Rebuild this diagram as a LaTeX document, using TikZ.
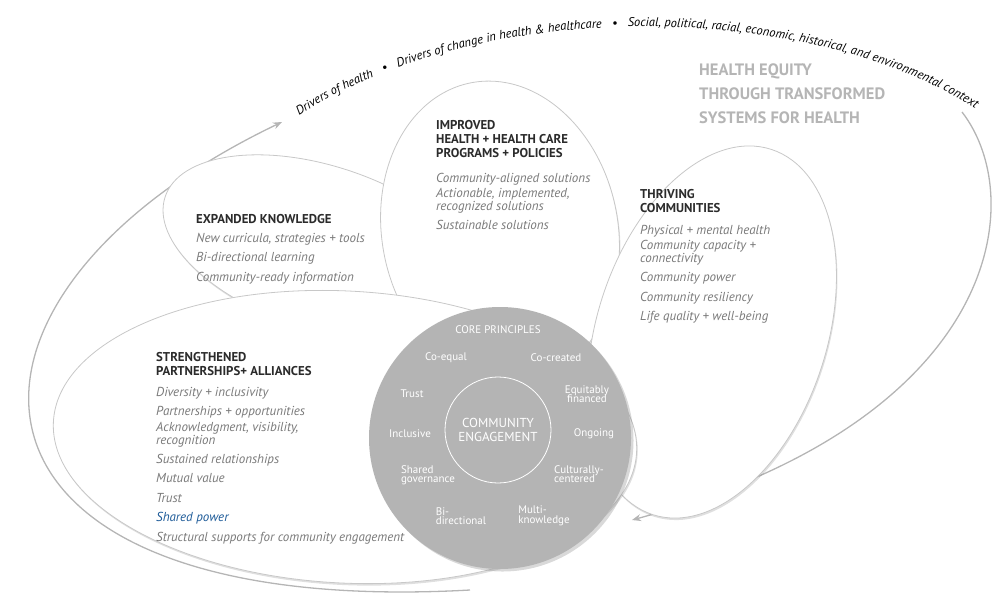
\documentclass[tikz,border=0pt]{standalone}
\usepackage{fontspec}
\setmainfont{PT Sans}
\usetikzlibrary{decorations.text,shadows,arrows.meta}
\definecolor{ttl}{HTML}{2B2B2B}
\definecolor{itm}{HTML}{7A7A7A}
\definecolor{pet}{HTML}{C8C8C8}
\definecolor{arr}{HTML}{B5B5B5}
\definecolor{core}{HTML}{B4B4B4}
\definecolor{blu}{HTML}{1F5C99}
\tikzset{
 petal/.style={fill=white,draw=pet,line width=0.8pt,drop shadow={shadow xshift=1pt,shadow yshift=-2pt,opacity=0.25}},
 title/.style={anchor=north west,align=left,font=\fontsize{12.8}{14}\selectfont\bfseries,text=ttl,inner sep=0},
 items/.style={anchor=north west,align=left,font=\fontsize{13}{19.5}\selectfont\itshape,text=itm,inner sep=0},
 cp/.style={align=center,font=\fontsize{11}{11.5}\selectfont,text=white,inner sep=0},
 bigarr/.style={draw=arr,line width=1.3pt,-{Stealth[length=9pt,width=7pt]}}
}
\begin{document}
\begin{tikzpicture}[x=1pt,y=1pt]
\useasboundingbox (0,0) rectangle (1000,-598);
% arrows
\coordinate (la0) at (470,-590);
\coordinate (la1) at (282,-122);
\draw[bigarr] (la0) .. controls (-70,-620) and (-90,-300) .. (la1);
\coordinate (ra0) at (962,-112);
\coordinate (ra1) at (632,-520);
\draw[bigarr] (ra0) .. controls (1030,-200) and (1000,-420) .. (ra1);
% curved text
\path[postaction={decorate},decoration={text along path,text align=center,raise=2pt,
 text={|\fontsize{12.5}{12.5}\selectfont\itshape|Drivers of health{\ }{\ }{\ }{\textbullet}{\ }{\ }{\ }Drivers of change in health {\&} healthcare{\ }{\ }{\ }{\textbullet}{\ }{\ }{\ }Social, political, racial, economic, historical, and environmental context}}]
 (288,-126) .. controls (470,5) and (820,0) .. (985,-118);
% petals
\draw[petal,rotate around={-18:(322,-248)}] (322,-248) ellipse (165 and 82);
\draw[petal,rotate around={101:(500,-232)}] (500,-232) ellipse (152 and 118);
\draw[petal,rotate around={72:(712,-332)}] (712,-332) ellipse (192 and 115);
\draw[petal,rotate around={-3:(345,-437)}] (345,-437) ellipse (292 and 146);
% core
\node[circle,fill=core,minimum size=262pt,inner sep=0,drop shadow={opacity=0.3}] (core) at (500,-438) {};
\node[circle,draw=white,line width=0.8pt,minimum size=106pt,inner sep=0] (ce) at (498,-430) {};
\node[cp,font=\fontsize{13}{14}\selectfont] at (ce) {COMMUNITY\\ENGAGEMENT};
\node[cp] (t0) at (498,-330) {CORE PRINCIPLES};
\node[cp] (t1) at (446,-358) {Co-equal};
\node[cp] (t2) at (556,-358) {Co-created};
\node[cp] (t3) at (412,-394) {Trust};
\node[cp] (t4) at (587,-394) {Equitably\\[-2pt]financed};
\node[cp] (t5) at (410,-434) {Inclusive};
\node[cp] (t6) at (594,-434) {Ongoing};
\node[cp,align=left] (t7) at (428,-475) {Shared\\[-2pt]governance};
\node[cp,align=left] (t8) at (579,-474) {Culturally-\\[-2pt]centered};
\node[cp,align=left] (t9) at (461,-516) {Bi-\\[-2pt]directional};
\node[cp,align=left] (t10) at (544,-516) {Multi-\\[-2pt]knowledge};
% texts
\node[title] (h1) at (436,-120) {IMPROVED\\HEALTH + HEALTH CARE\\PROGRAMS + POLICIES};
\node[items] (i1) at (436,-173) {Community-aligned solutions\\[-4pt]
 \parbox[t]{150pt}{\raggedright\fontsize{13}{13}\selectfont Actionable, implemented,\\recognized solutions}\\[6pt]
 Sustainable solutions};
\node[title] (h2) at (196,-214) {EXPANDED KNOWLEDGE};
\node[items] (i2) at (196,-233) {New curricula, strategies + tools\\Bi-directional learning\\Community-ready information};
\node[title] (h3) at (640,-189) {THRIVING\\COMMUNITIES};
\node[items] (i3) at (640,-225) {Physical + mental health\\[-4pt]
 \parbox[t]{150pt}{\raggedright\fontsize{13}{13}\selectfont Community capacity +\\connectivity}\\[6pt]
 Community power\\Community resiliency\\Life quality + well-being};
\node[title] (h4) at (156,-352) {STRENGTHENED\\PARTNERSHIPS+ ALLIANCES};
\node[items] (i4) at (156,-387) {Diversity + inclusivity\\Partnerships + opportunities\\[-4pt]
 \parbox[t]{200pt}{\raggedright\fontsize{13}{13}\selectfont Acknowledgment, visibility,\\recognition}\\[6pt]
 Sustained relationships\\Mutual value\\Trust\\{\color{blu}Shared power}\\Structural supports for community engagement};
\node[anchor=north west,align=left,inner sep=0,font=\fontsize{16.5}{24}\selectfont\bfseries,text=arr] (he) at (699,-64) {HEALTH EQUITY\\THROUGH TRANSFORMED\\SYSTEMS FOR HEALTH};
\end{tikzpicture}
\end{document}
